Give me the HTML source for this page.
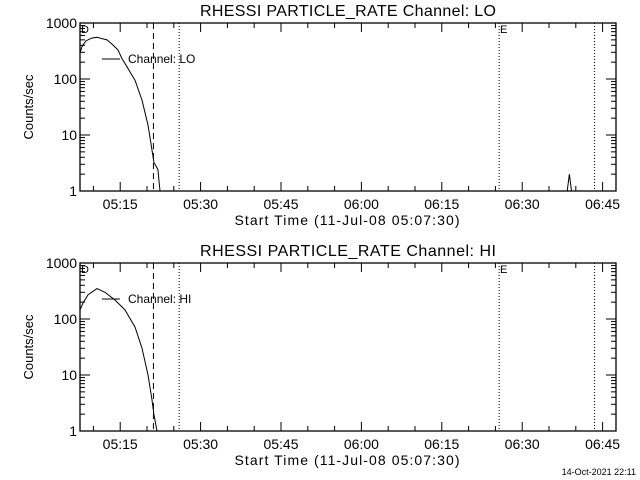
<!DOCTYPE html>
<html><head><meta charset="utf-8"><style>
html,body{margin:0;padding:0;background:#fff;width:640px;height:480px;overflow:hidden}
svg text{font-family:"Liberation Sans",sans-serif;fill:#000}
</style></head><body>
<svg id="chart" width="640" height="480" xmlns="http://www.w3.org/2000/svg"></svg>
<script>
// Time in minutes after 05:07:30
const loTimes = [0,0.37,1.12,2.24,3.17,4.29,5.04,5.97,7.09,7.84,8.77,9.51,10.26,11.0,11.57,12.13,12.69,13.06,13.43,13.81,14.18,14.55,14.74,14.93];
const loValues = [290,380,480,540,555,520,500,420,330,230,165,125,95,60,42,25,15,9,5.4,3.2,2.8,2.4,1.5,1];
const loSpikeTimes = [90.9,91.3,91.7];
const loSpikeValues = [1,2,1];
const hiTimes = [0,0.56,1.49,3.17,4.66,6.53,8.40,10.26,11.57,12.69,13.43,13.81,14.37];
const hiValues = [145,193,270,350,300,218,145,72,30,10,3.6,1.9,1];
const tickLabels = ["05:15","05:30","05:45","06:00","06:15","06:30","06:45"];
const tickMinutes = [7.5,22.5,37.5,52.5,67.5,82.5,97.5];
const yTickValues = [1,10,100,1000];
const yTickLabels = ["1","10","100","1000"];
const dashedMinutes = [13.7];
const dottedMinutes = [18.5,78.2,96];

const NS="http://www.w3.org/2000/svg";
const svg=document.getElementById('chart');
const X0=80,X1=616,TMAX=100;
function xs(m){return X0+(X1-X0)*m/TMAX;}
function mk(tag,attrs,parent){const e=document.createElementNS(NS,tag);for(const k in attrs)e.setAttribute(k,attrs[k]);(parent||svg).appendChild(e);return e;}

function panel(off,name,times,values,spikes){
  const top=23+off,bot=191+off;
  const ys=v=>bot-56*Math.log10(v);
  const g=mk('g',{});
  
  
  const t=mk('text',{x:348,y:16+off,'font-size':16,'text-anchor':'middle',textLength:296},g);
  t.textContent='RHESSI PARTICLE_RATE Channel: '+name;
  
  
  const box=mk('rect',{x:X0,y:top,width:X1-X0,height:bot-top,fill:'none',stroke:'#000','stroke-width':1.3},g);
  
  
  for(let m=2.5;m<TMAX;m+=5){
    const major=(Math.round(m*10)%150)===75;
    const len=major?9:5;
    mk('line',{x1:xs(m),x2:xs(m),y1:bot,y2:bot-len,stroke:'#000'},g);
    mk('line',{x1:xs(m),x2:xs(m),y1:top,y2:top+len,stroke:'#000'},g);
  }
  tickLabels.forEach((l,i)=>{
    const e=mk('text',{x:xs(tickMinutes[i]),y:209+off,'font-size':14,'text-anchor':'middle'},g);
    e.textContent=l;
    
    
  });
  yTickValues.forEach((v,i)=>{
    const y=ys(v);
    mk('line',{x1:X0,x2:X0+10,y1:y,y2:y,stroke:'#000'},g);
    mk('line',{x1:X1,x2:X1-10,y1:y,y2:y,stroke:'#000'},g);
    if(i<3)for(let k=2;k<10;k++){const yy=ys(v*k);mk('line',{x1:X0,x2:X0+5,y1:yy,y2:yy,stroke:'#000'},g);mk('line',{x1:X1,x2:X1-5,y1:yy,y2:yy,stroke:'#000'},g);}
    const e=mk('text',{x:77,y:y+5,'font-size':14,'text-anchor':'end'},g);
    e.textContent=yTickLabels[i];
    
    
  });
  const yl=mk('text',{x:33,y:107+off,'font-size':13,'text-anchor':'middle',transform:'rotate(-90 33 '+(107+off)+')'},g);
  yl.textContent='Counts/sec';
  
  
  const xl=mk('text',{x:347,y:225+off,'font-size':14,'text-anchor':'middle',textLength:225},g);
  xl.textContent='Start Time (11-Jul-08 05:07:30)';
  
  
  dashedMinutes.forEach(m=>{const l=mk('line',{x1:xs(m),x2:xs(m),y1:top,y2:bot,stroke:'#000','stroke-dasharray':'6,4'},g);});
  dottedMinutes.forEach(m=>{const l=mk('line',{x1:xs(m),x2:xs(m),y1:top,y2:bot,stroke:'#000','stroke-dasharray':'1,2'},g);});
  const s1=mk('text',{x:81,y:top+10,'font-size':11},g);s1.textContent='D';
  
  
  const s2=mk('text',{x:500,y:top+10,'font-size':11},g);s2.textContent='E';
  
  
  const p=mk('polyline',{points:times.map((m,i)=>xs(m)+','+ys(values[i])).join(' '),fill:'none',stroke:'#000'},g);
  
  
  if(spikes){const q=mk('polyline',{points:spikes[0].map((m,i)=>xs(m)+','+ys(spikes[1][i])).join(' '),fill:'none',stroke:'#000'},g);
    
    }
  const ll=mk('line',{x1:102,x2:120,y1:59+off,y2:59+off,stroke:'#000'},g);
  
  
  const lt=mk('text',{x:128,y:63+off,'font-size':12},g);
  lt.textContent='Channel: '+name;
  
  
}
panel(0,'LO',loTimes,loValues,[loSpikeTimes,loSpikeValues]);
panel(240,'HI',hiTimes,hiValues,null);
const d=mk('text',{x:636,y:475,'font-size':9,'text-anchor':'end'});
d.textContent='14-Oct-2021 22:11';


</script>
</body></html>
